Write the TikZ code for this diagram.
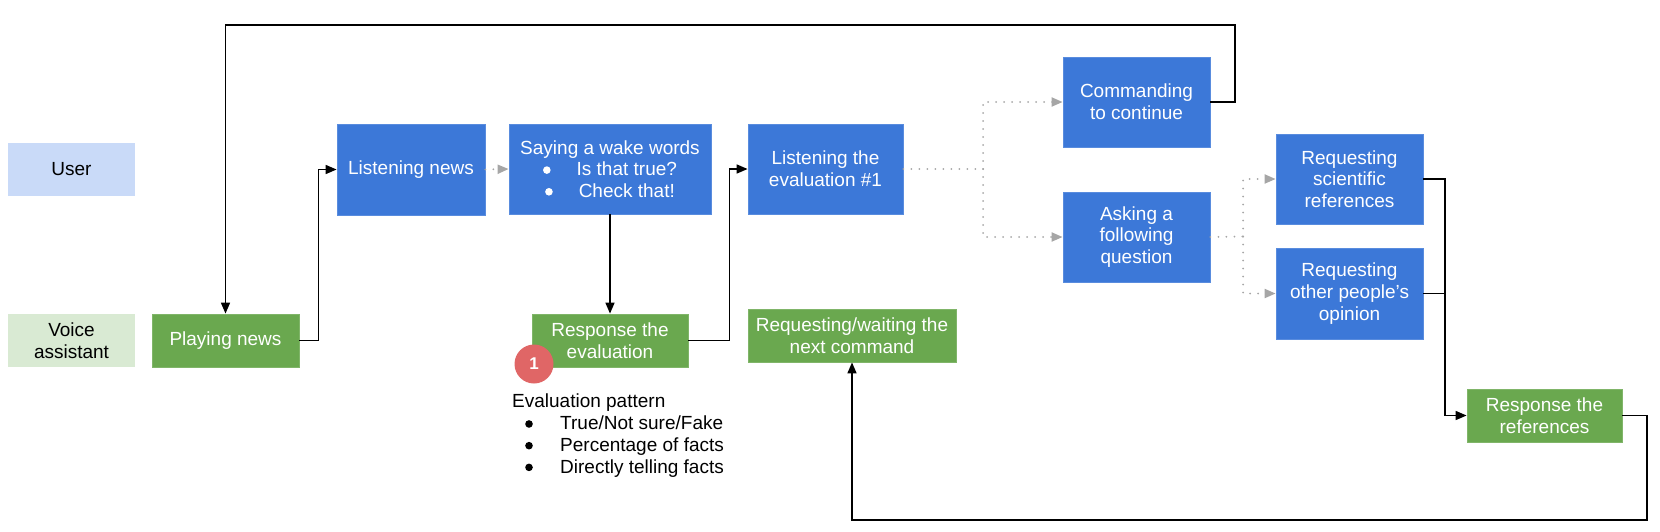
\documentclass[tikz,border=0pt]{standalone}
\usepackage{fontspec}
\setmainfont{Liberation Sans}
\usetikzlibrary{arrows.meta}
\definecolor{blueact}{HTML}{3C78D8}
\definecolor{greenact}{HTML}{6AA84F}
\definecolor{userlane}{HTML}{C9DAF8}
\definecolor{voicelane}{HTML}{D9EAD3}
\definecolor{badgered}{HTML}{E06666}
\definecolor{dotgray}{HTML}{A6A6A6}
\newcommand{\blt}[1]{\tikz[baseline=-5.7pt]\fill[#1] (0pt,0pt) circle (3.8pt);}

\begin{document}
\begin{tikzpicture}[x=1pt,y=-1pt,
    txt/.style={font=\fontsize{19}{21.7}\selectfont},
    box/.style={txt,rectangle,inner sep=2pt,align=center,text=white},
    userbox/.style={box,fill=blueact,draw=blueact!85!white,line width=0.8pt},
    vabox/.style={box,fill=greenact,draw=greenact!85!white,line width=0.8pt},
    lane/.style={txt,rectangle,align=center,minimum width=127pt,minimum height=53pt},
    flow/.style={line width=1.6pt,-{Triangle[length=11pt,width=9pt]}},
    solid line/.style={line width=1.6pt},
    dots/.style={dotgray,line width=2pt,line cap=round,dash pattern=on 0pt off 8pt},
    dotflow/.style={dots,-{Triangle[length=11pt,width=9pt,fill=dotgray]}}]
  \useasboundingbox (0,0) rectangle (1660,531);
  % lanes
  \node[lane,fill=userlane] (user) at (71.5,169.5) {User};
  \node[lane,fill=voicelane] (voice) at (71.5,340.5) {Voice\\assistant};
  % user actions
  \node[userbox,minimum width=148pt,minimum height=91pt] (listen) at (411,169.5) {Listening news};
  \node[userbox,minimum width=202pt,minimum height=90pt] (wake) at (610,169)
    {Saying a wake words\\ \blt{white}\hspace{26pt}Is that true?\\ \blt{white}\hspace{26pt}Check that!};
  \node[userbox,minimum width=155pt,minimum height=90pt] (evl) at (825.5,169) {Listening the\\evaluation \#1};
  \node[userbox,minimum width=147pt,minimum height=90pt] (cont) at (1136.5,102) {Commanding\\to continue};
  \node[userbox,minimum width=147pt,minimum height=90pt] (ask) at (1136.5,237) {Asking a\\following\\question};
  \node[userbox,minimum width=147pt,minimum height=90pt] (sci) at (1349.5,179) {Requesting\\scientific\\references};
  \node[userbox,minimum width=147pt,minimum height=91pt] (other) at (1349.5,293.5) {Requesting\\other people’s\\opinion};
  % assistant actions
  \node[vabox,minimum width=147pt,minimum height=53pt] (play) at (225.5,340.5) {Playing news};
  \node[vabox,minimum width=156pt,minimum height=53pt] (resp) at (610,340.5) {Response the\\evaluation};
  \node[vabox,minimum width=208pt,minimum height=53pt] (wait) at (852,335.5) {Requesting/waiting the\\next command};
  \node[vabox,minimum width=155pt,minimum height=53pt] (refs) at (1544.5,415.5) {Response the\\references};
  % note
  \node[circle,fill=badgered,text=white,minimum size=39pt,inner sep=0pt,
    font=\fontsize{17}{17}\selectfont\bfseries] (badge) at (534,364) {1};
  \node[txt,anchor=north west,align=left,inner sep=0pt] (pattern) at (512,394)
    {Evaluation pattern\\
     \makebox[48pt][l]{\hspace{13pt}\blt{black}}True/Not sure/Fake\\
     \makebox[48pt][l]{\hspace{13pt}\blt{black}}Percentage of facts\\
     \makebox[48pt][l]{\hspace{13pt}\blt{black}}Directly telling facts};
  % joints
  \coordinate (split1) at (983,169);
  \coordinate (split2) at (1243,236.5);
  \coordinate (merge) at (1445,179);
  \coordinate (top) at (1235,25);
  \coordinate (bot) at (1647,520);
  % connectors
  \draw[flow] (play.east) -- ++(19,0) |- (listen.west);
  \draw[dotflow] (listen.east) -- (wake.west);
  \draw[flow] (wake.south) -- (resp.north);
  \draw[flow] (resp.east) -- ++(41,0) |- (evl.west);
  \draw[dots] (evl.east) -- (split1);
  \draw[dotflow] (split1) |- (cont.west);
  \draw[dotflow] (split1) |- (ask.west);
  \draw[dots] (ask.east) -- (split2);
  \draw[dotflow] (split2) |- (sci.west);
  \draw[dotflow] (split2) |- (other.west);
  \draw[flow] (cont.east) -| (top) -| (play.north);
  \draw[flow] (sci.east) -- (merge) |- (refs.west);
  \draw[solid line] (other.east) -- (merge |- other.east);
  \draw[flow] (refs.east) -| (bot) -| (wait.south);
\end{tikzpicture}
\end{document}
